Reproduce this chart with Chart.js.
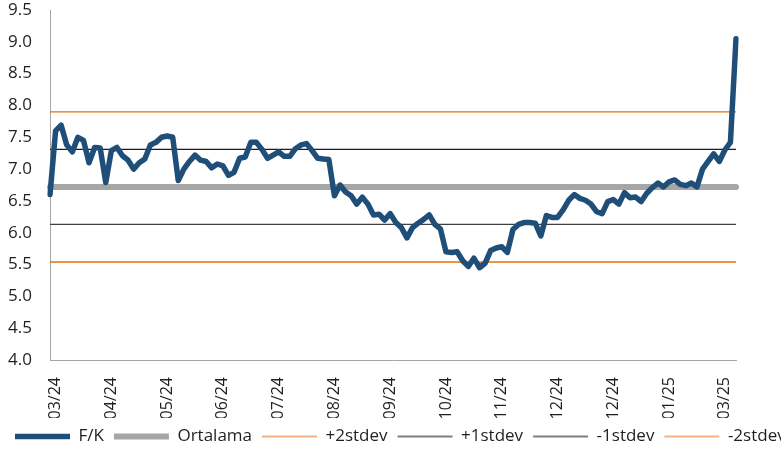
<!DOCTYPE html>
<html>
<head>
<meta charset="utf-8">
<script src="https://cdn.jsdelivr.net/npm/chart.js@4.4.1/dist/chart.umd.min.js"></script>
<style>
  html, body { margin: 0; padding: 0; background: #fff; overflow: hidden; }
  #wrap { width: 830px; height: 455px; }
</style>
</head>
<body>
<div id="wrap"><canvas id="fkChart" width="830" height="455"></canvas></div>
<script>
// etiketler (her 10 noktada bir)
const tickLabels = ['03/24', '04/24', '05/24', '06/24', '07/24', '08/24', '09/24',
                    '10/24', '11/24', '12/24', '12/24', '01/25', '03/25'];

// F/K serisi
const fkValues = [
    6.60, 7.60, 7.69, 7.38, 7.27, 7.50, 7.45, 7.10, 7.34, 7.33,
    6.79, 7.29, 7.34, 7.21, 7.14, 7.00, 7.10, 7.16, 7.38, 7.42,
    7.50, 7.52, 7.50, 6.82, 7.00, 7.12, 7.22, 7.14, 7.12, 7.02,
    7.08, 7.05, 6.90, 6.95, 7.17, 7.19, 7.42, 7.42, 7.31, 7.17,
    7.22, 7.27, 7.20, 7.20, 7.32, 7.38, 7.40, 7.29, 7.17, 7.16,
    7.15, 6.58, 6.75, 6.64, 6.58, 6.45, 6.56, 6.45, 6.28, 6.29,
    6.20, 6.30, 6.16, 6.08, 5.92, 6.08, 6.15, 6.21, 6.28, 6.13,
    6.06, 5.70, 5.69, 5.70, 5.56, 5.47, 5.60, 5.45, 5.52, 5.72,
    5.76, 5.78, 5.69, 6.05, 6.13, 6.16, 6.16, 6.15, 5.95, 6.27,
    6.24, 6.24, 6.36, 6.51, 6.60, 6.54, 6.51, 6.45, 6.33, 6.30,
    6.49, 6.52, 6.45, 6.63, 6.55, 6.56, 6.49, 6.62, 6.71, 6.78,
    6.72, 6.80, 6.83, 6.76, 6.74, 6.78, 6.72, 7.00, 7.12, 7.24,
    7.12, 7.30, 7.42, 9.05
];

// ortalama ve standart sapma bantları
const meanValue = 6.72;
const plus2Std = 7.90;
const plus1Std = 7.31;
const minus1Std = 6.13;
const minus2Std = 5.54;

const labels = fkValues.map((v, i) => (i % 10 === 1 ? tickLabels[(i - 1) / 10] : ''));
const flat = (val) => new Array(fkValues.length).fill(val);

const FONT = "'Open Sans', sans-serif";
const TEXT = '#1f1f1f';

// lejantta ince çizgiler biraz daha açık görünüyor
const legendStroke = {
    '+2stdev': '#F4B183',
    '+1stdev': '#7F7F7F',
    '-1stdev': '#7F7F7F',
    '-2stdev': '#F4B183'
};

const ctx = document.getElementById('fkChart').getContext('2d');
const fkChart = new Chart(ctx, {
    type: 'line',
    data: {
        labels: labels,
        datasets: [
            {
                label: 'F/K',
                data: fkValues,
                borderColor: '#1F4E79',
                backgroundColor: '#1F4E79',
                borderWidth: 5.5,
                borderJoinStyle: 'round',
                borderCapStyle: 'round',
                pointRadius: 0,
                tension: 0,
                order: 0
            },
            {
                label: 'Ortalama',
                data: flat(meanValue),
                borderColor: '#A6A6A6',
                backgroundColor: '#A6A6A6',
                borderWidth: 6,
                borderCapStyle: 'round',
                pointRadius: 0,
                order: 1
            },
            {
                label: '+2stdev',
                data: flat(plus2Std),
                borderColor: '#E8710A',
                backgroundColor: '#E8710A',
                borderWidth: 1.3,
                pointRadius: 0,
                order: 2
            },
            {
                label: '+1stdev',
                data: flat(plus1Std),
                borderColor: '#1a1a1a',
                backgroundColor: '#1a1a1a',
                borderWidth: 1.3,
                pointRadius: 0,
                order: 2
            },
            {
                label: '-1stdev',
                data: flat(minus1Std),
                borderColor: '#404040',
                backgroundColor: '#404040',
                borderWidth: 1.3,
                pointRadius: 0,
                order: 2
            },
            {
                label: '-2stdev',
                data: flat(minus2Std),
                borderColor: '#E8710A',
                backgroundColor: '#E8710A',
                borderWidth: 1.3,
                pointRadius: 0,
                order: 2
            }
        ]
    },
    options: {
        responsive: false,
        animation: false,
        layout: {
            padding: { left: 5, right: 0, top: 10, bottom: 0 }
        },
        scales: {
            x: {
                offset: false,
                grid: { display: false },
                border: { display: true, color: '#A6A6A6', width: 1 },
                ticks: {
                    autoSkip: false,
                    maxRotation: 90,
                    minRotation: 90,
                    padding: 9,
                    color: TEXT,
                    font: { family: FONT, size: 16 }
                },
                afterFit: function(scale) {
                    scale.height = 58;
                }
            },
            y: {
                min: 4,
                max: 9.5,
                grid: { display: false, drawTicks: false },
                border: { display: true, color: '#A6A6A6', width: 1 },
                ticks: {
                    stepSize: 0.5,
                    padding: 18,
                    color: TEXT,
                    font: { family: FONT, size: 17 },
                    callback: function(value) {
                        return value.toFixed(1);
                    }
                },
                afterFit: function(scale) {
                    scale.width = 45;
                    scale.paddingTop = 0;
                    scale.paddingBottom = 0;
                }
            },
            // sağ boşluk için görünmez eksen
            yRight: {
                position: 'right',
                grid: { display: false, drawTicks: false },
                border: { display: false },
                ticks: { display: false },
                afterFit: function(scale) {
                    scale.width = 94;
                }
            }
        },
        plugins: {
            legend: {
                position: 'bottom',
                align: 'start',
                labels: {
                    usePointStyle: true,
                    pointStyle: 'line',
                    pointStyleWidth: 55,
                    padding: 10,
                    color: TEXT,
                    font: { family: FONT, size: 17 },
                    generateLabels: function(chart) {
                        const items = Chart.defaults.plugins.legend.labels.generateLabels(chart);
                        items.forEach(item => {
                            if (legendStroke[item.text]) {
                                item.strokeStyle = legendStroke[item.text];
                                item.lineWidth = 2;
                            }
                        });
                        return items;
                    }
                }
            },
            tooltip: { enabled: false }
        }
    }
});
</script>
</body>
</html>
